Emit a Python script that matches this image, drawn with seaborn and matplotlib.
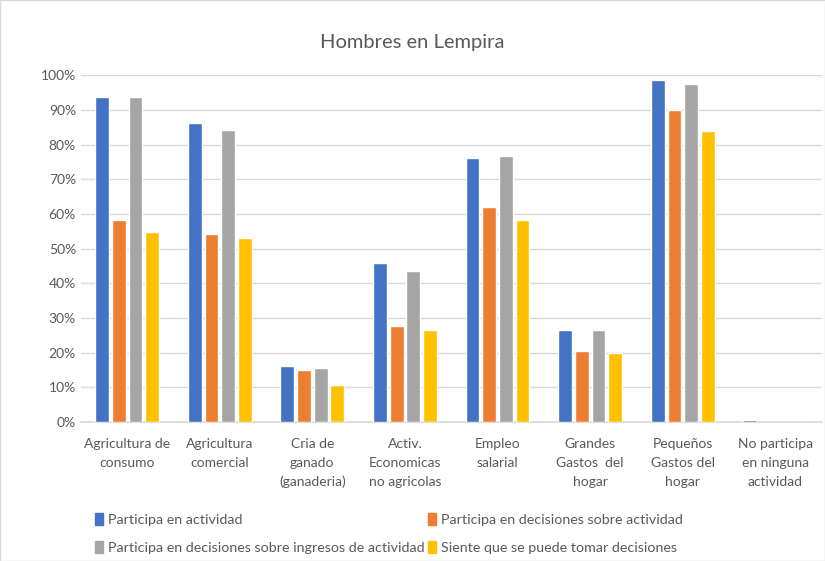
import seaborn as sns
import pandas as pd
import matplotlib.pyplot as plt
from matplotlib.ticker import PercentFormatter
from matplotlib.patches import Patch
from matplotlib.transforms import blended_transform_factory

categories = ["Agricultura de\nconsumo", "Agricultura\ncomercial", "Cria de\nganado\n(ganaderia)",
              "Activ.\nEconomicas\nno agricolas", "Empleo\nsalarial", "Grandes\nGastos  del\nhogar",
              "Pequeños\nGastos del\nhogar", "No participa\nen ninguna\nactividad"]
series = ["Participa en actividad",
          "Participa en decisiones sobre actividad",
          "Participa en decisiones sobre ingresos de actividad",
          "Siente que se puede tomar decisiones"]
participa = [0.936, 0.861, 0.160, 0.458, 0.762, 0.264, 0.987, 0.006]
decide_actividad = [0.583, 0.542, 0.151, 0.277, 0.620, 0.204, 0.899, 0.0]
decide_ingresos = [0.936, 0.842, 0.155, 0.434, 0.767, 0.264, 0.974, 0.0]
siente = [0.547, 0.530, 0.107, 0.265, 0.583, 0.200, 0.838, 0.0]
colors = ["#4472C4", "#ED7D31", "#A5A5A5", "#FFC000"]

df = pd.DataFrame({
    "cat": categories * 4,
    "serie": [s for s in series for _ in categories],
    "valor": participa + decide_actividad + decide_ingresos + siente,
})

sns.set_theme(style="white")
plt.rcParams["font.family"] = ["Lato", "DejaVu Sans"]

fig = plt.figure(figsize=(8.25, 5.61), dpi=100)
ax = fig.add_axes([0.098, 0.248, 0.898, 0.618])
sns.barplot(data=df, x="cat", y="valor", hue="serie", hue_order=series, palette=colors,
            width=0.72, gap=0.17, ax=ax, legend=False, saturation=1)

ax.set_ylim(0, 1)
ax.set_xlim(-0.5, 7.5)
ax.set_yticks([i / 10 for i in range(11)])
ax.yaxis.set_major_formatter(PercentFormatter(1, decimals=0))
ax.grid(axis="y", color="#d9d9d9", linewidth=1)
ax.set_axisbelow(True)
for s in ["top", "right", "left"]:
    ax.spines[s].set_visible(False)
ax.spines["bottom"].set_color("#d9d9d9")
ax.spines["bottom"].set_zorder(0.6)
ax.tick_params(axis="both", length=0, colors="#595959", labelsize=10)
ax.tick_params(axis="x", labelbottom=False)
ax.set_xlabel("")
ax.set_ylabel("")

# category labels, one line at a time for Excel-like spacing
trans = blended_transform_factory(ax.transData, ax.transAxes)
line_step = 0.0549  # ~19 px in axes units
for i, cat in enumerate(categories):
    for j, line in enumerate(cat.split("\n")):
        ax.text(i, -0.075 - j * line_step, line, transform=trans, ha="center",
                va="baseline", fontsize=10, color="#595959")

fig.text(0.5, 0.925, "Hombres en Lempira", ha="center", va="center", fontsize=14.5, color="#595959")

handles = [Patch(color=c, label=l) for c, l in zip(colors, series)]
order = [0, 2, 1, 3]
fig.legend([handles[i] for i in order], [series[i] for i in order], ncol=2,
           loc="upper left", bbox_to_anchor=(0.108, 0.096), frameon=False,
           handlelength=0.55, handleheight=0.9, handletextpad=0.4, columnspacing=0.2,
           labelspacing=1.05, fontsize=10.3, labelcolor="#595959", borderaxespad=0)

fig.patches.append(plt.Rectangle((0, 0), 1, 1, transform=fig.transFigure, fill=False,
                                 edgecolor="#d9d9d9", linewidth=1))
fig.savefig("out.png", dpi=100)
